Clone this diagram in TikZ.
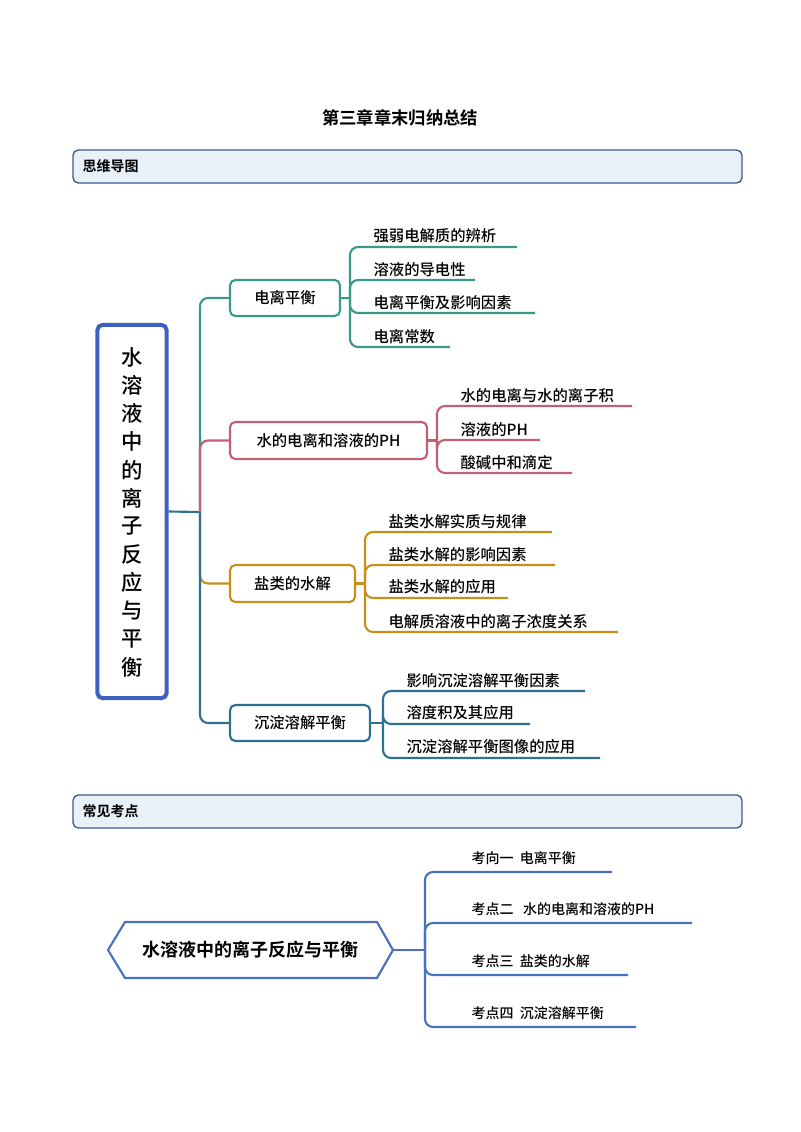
\documentclass[tikz,border=0pt]{standalone}
\usepackage{fontspec}
\setmainfont{Noto Sans CJK SC}
\newfontfamily\cjkb{Noto Sans CJK SC Bold}
\newfontfamily\cjkm{Noto Sans CJK SC Medium}
\begin{document}
\begin{tikzpicture}[x=0.75pt,y=-0.75pt,
  hdr/.style={draw=hdrc,fill=hdrf,line width=1pt,rounded corners=4pt},
  br/.style={draw=#1,line width=1.6pt,rounded corners=4pt,fill=white,inner sep=0pt,font=\cjkm\fontsize{11.5}{13}\selectfont},
  lf/.style={anchor=south west,inner sep=1pt,font=\cjkm\fontsize{11.5}{13}\selectfont},
  ln/.style={draw=#1,line width=1.6pt,rounded corners=6pt}]
\definecolor{hdrc}{HTML}{3A5A8A}\definecolor{hdrf}{HTML}{E8F0F8}
\definecolor{rootc}{HTML}{4060C0}
\definecolor{ca}{HTML}{3A9A8A}\definecolor{cb}{HTML}{C06070}
\definecolor{cc}{HTML}{C8901A}\definecolor{cd}{HTML}{2F7090}
\definecolor{ce}{HTML}{4A70C0}
\useasboundingbox (0,0) rectangle (800,1132);
\node[font=\cjkb\fontsize{13}{15}\selectfont] (title) at (400,118) {第三章章末归纳总结};
\draw[hdr] (73,150) rectangle (742,183);
\node[anchor=west,font=\cjkb\fontsize{10.5}{12}\selectfont] (h1) at (78,166.5) {思维导图};
\draw[hdr] (73,795) rectangle (742,828);
\node[anchor=west,font=\cjkb\fontsize{10.5}{12}\selectfont] (h2) at (78,811.5) {常见考点};
% root
\node[draw=rootc,line width=3pt,rounded corners=4pt,minimum width=52pt,minimum height=280pt,inner sep=0pt] (root) at (132,511.5) {};
\foreach \c [count=\i from 0] in {水,溶,液,中,的,离,子,反,应,与,平,衡}
  \node[font=\cjkm\fontsize{16}{18}\selectfont] at (132,357+\i*28.2) {\c};
% branch boxes
\node[br=ca,minimum width=82.5pt,minimum height=27pt] (b1) at (285,298) {电离平衡};
\node[br=cb,minimum width=147.75pt,minimum height=27.75pt] (b2) at (328.5,440.5) {水的电离和溶液的PH};
\node[br=cc,minimum width=93.75pt,minimum height=27.75pt] (b3) at (292.5,583.5) {盐类的水解};
\node[br=cd,minimum width=105pt,minimum height=27pt] (b4) at (300,723) {沉淀溶解平衡};
\coordinate (t0) at (root.east);
\draw[ln=cd] (t0) -- (200,512);
\draw[ln=ca] (200,512) -- (200,298) -- (b1.west);
\draw[ln=cb] (200,512) -- (200,440.5) -- (b2.west);
\draw[ln=cc] (200,512) -- (200,583.5) -- (b3.west);
\draw[ln=cd] (200,512) -- (200,723) -- (b4.west);
\draw[ln=ca] (b1.east) -- (350,298);
\foreach \y/\e/\t [count=\i] in {247/517/强弱电解质的辨析,280/475/溶液的导电性,313/535/电离平衡及影响因素,347/450/电离常数}{
  \draw[ln=ca] (350,298) -- (350,\y) -- (\e,\y);
  \node[lf] (a\i) at (372,\y-2) {\t};}
\draw[ln=cb] (b2.east) -- (437,440.5);
\foreach \y/\e/\t [count=\i] in {406/632/水的电离与水的离子积,440/540/溶液的PH,473/572/酸碱中和滴定}{
  \draw[ln=cb] (437,440.5) -- (437,\y) -- (\e,\y);
  \node[lf] (r\i) at (459,\y-2) {\t};}
\draw[ln=cc] (b3.east) -- (365,583.5);
\foreach \y/\e/\t [count=\i] in {532/552/盐类水解实质与规律,565/555/盐类水解的影响因素,598/508/盐类水解的应用,632/618/电解质溶液中的离子浓度关系}{
  \draw[ln=cc] (365,583.5) -- (365,\y) -- (\e,\y);
  \node[lf] (g\i) at (387,\y-2) {\t};}
\draw[ln=cd] (b4.east) -- (383,723);
\foreach \y/\e/\t [count=\i] in {691/585/影响沉淀溶解平衡因素,724/530/溶度积及其应用,758/600/沉淀溶解平衡图像的应用}{
  \draw[ln=cd] (383,723) -- (383,\y) -- (\e,\y);
  \node[lf] (d\i) at (405,\y-2) {\t};}
% bottom
\draw[draw=ce,line width=1.6pt,fill=white] (108,950) -- (125,922) -- (377,922) -- (393,950) -- (377,978) -- (125,978) -- cycle;
\node[font=\cjkb\fontsize{13.5}{15}\selectfont] (hex) at (250,950) {水溶液中的离子反应与平衡};
\coordinate (hx) at (393,950);
\draw[ln=ce] (hx) -- (425,950);
\foreach \y/\e/\t [count=\i] in {872/612/考向一\ \ 电离平衡,923/692/考点二\ \ \ 水的电离和溶液的PH,975/628/考点三\ \ 盐类的水解,1027/636/考点四\ \ 沉淀溶解平衡}{
  \draw[ln=ce] (425,950) -- (425,\y) -- (\e,\y);
  \node[lf,font=\cjkm\fontsize{10.5}{12}\selectfont] (k\i) at (470,\y-6) {\t};}
\end{tikzpicture}
\end{document}
